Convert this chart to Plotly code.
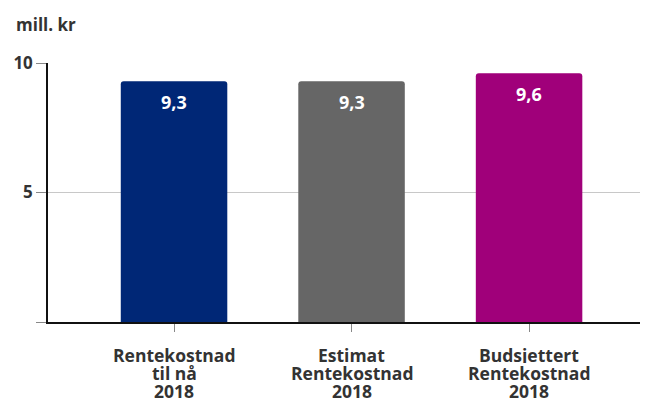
import plotly.graph_objects as go

categories = [
    ["Rentekostnad", "til nå", "2018"],
    ["Estimat", "Rentekostnad", "2018"],
    ["Budsjettert", "Rentekostnad", "2018"],
]
values = [9.3, 9.3, 9.6]
colors = ["#002776", "#666666", "#A0007A"]
y_tickvals = [0, 5, 10]
y_ticktext = ["", "5", "10"]

labels = [f"{v:.1f}".replace(".", ",") for v in values]
font_family = "'Open Sans', Lato, sans-serif"
txt_color = "#333333"
xs = list(range(len(categories)))

fig = go.Figure(go.Bar(
    x=xs,
    y=values,
    marker=dict(color=colors, cornerradius=3, line=dict(width=0)),
    width=0.6,
    hoverinfo="skip",
))

annotations = []
# value labels inside bars
for x, v, lab in zip(xs, values, labels):
    annotations.append(dict(
        text=lab, x=x, y=v, xref="x", yref="y",
        xanchor="center", yanchor="middle", yshift=-21,
        showarrow=False,
        font=dict(family=font_family, size=18, color="white", weight="bold"),
    ))
# category labels, one annotation per line for tight line spacing
line_offsets = [-32.5, -50.5, -68]
for x, lines in zip(xs, categories):
    for ln, off in zip(lines, line_offsets):
        annotations.append(dict(
            text=ln, x=x, y=0, xref="x", yref="paper",
            xanchor="center", yanchor="middle", yshift=off,
            height=17, valign="middle",
            showarrow=False,
            font=dict(family=font_family, size=17.5, color=txt_color, weight="bold"),
        ))
annotations.append(dict(
    text="mill. kr", xref="paper", yref="paper", x=0, y=1,
    xanchor="left", yanchor="middle", xshift=-34, yshift=39,
    showarrow=False,
    font=dict(family=font_family, size=17, color=txt_color, weight="bold"),
))

fig.update_layout(
    width=640, height=393,
    margin=dict(l=40, r=0, t=55, b=79),
    paper_bgcolor="white", plot_bgcolor="white",
    showlegend=False,
    font=dict(family=font_family, color=txt_color),
    xaxis=dict(
        tickvals=xs,
        ticktext=["" for _ in xs],
        range=[-0.71, 2.67],
        showgrid=False,
        showline=True, linecolor="#111111", linewidth=1.5,
        ticks="outside", ticklen=8, tickcolor="#888888", tickwidth=1,
        zeroline=False, automargin=False,
    ),
    yaxis=dict(
        range=[0, 10],
        tickvals=y_tickvals,
        ticktext=y_ticktext,
        showgrid=True, gridcolor="#c8c8c8", gridwidth=1,
        showline=True, linecolor="#111111", linewidth=1.5,
        ticks="outside", ticklen=10, tickcolor="#888888", tickwidth=1,
        tickfont=dict(family=font_family, size=17, color=txt_color, weight="bold"),
        zeroline=False, automargin=False,
    ),
    annotations=annotations,
)

fig.write_html("out.html")
